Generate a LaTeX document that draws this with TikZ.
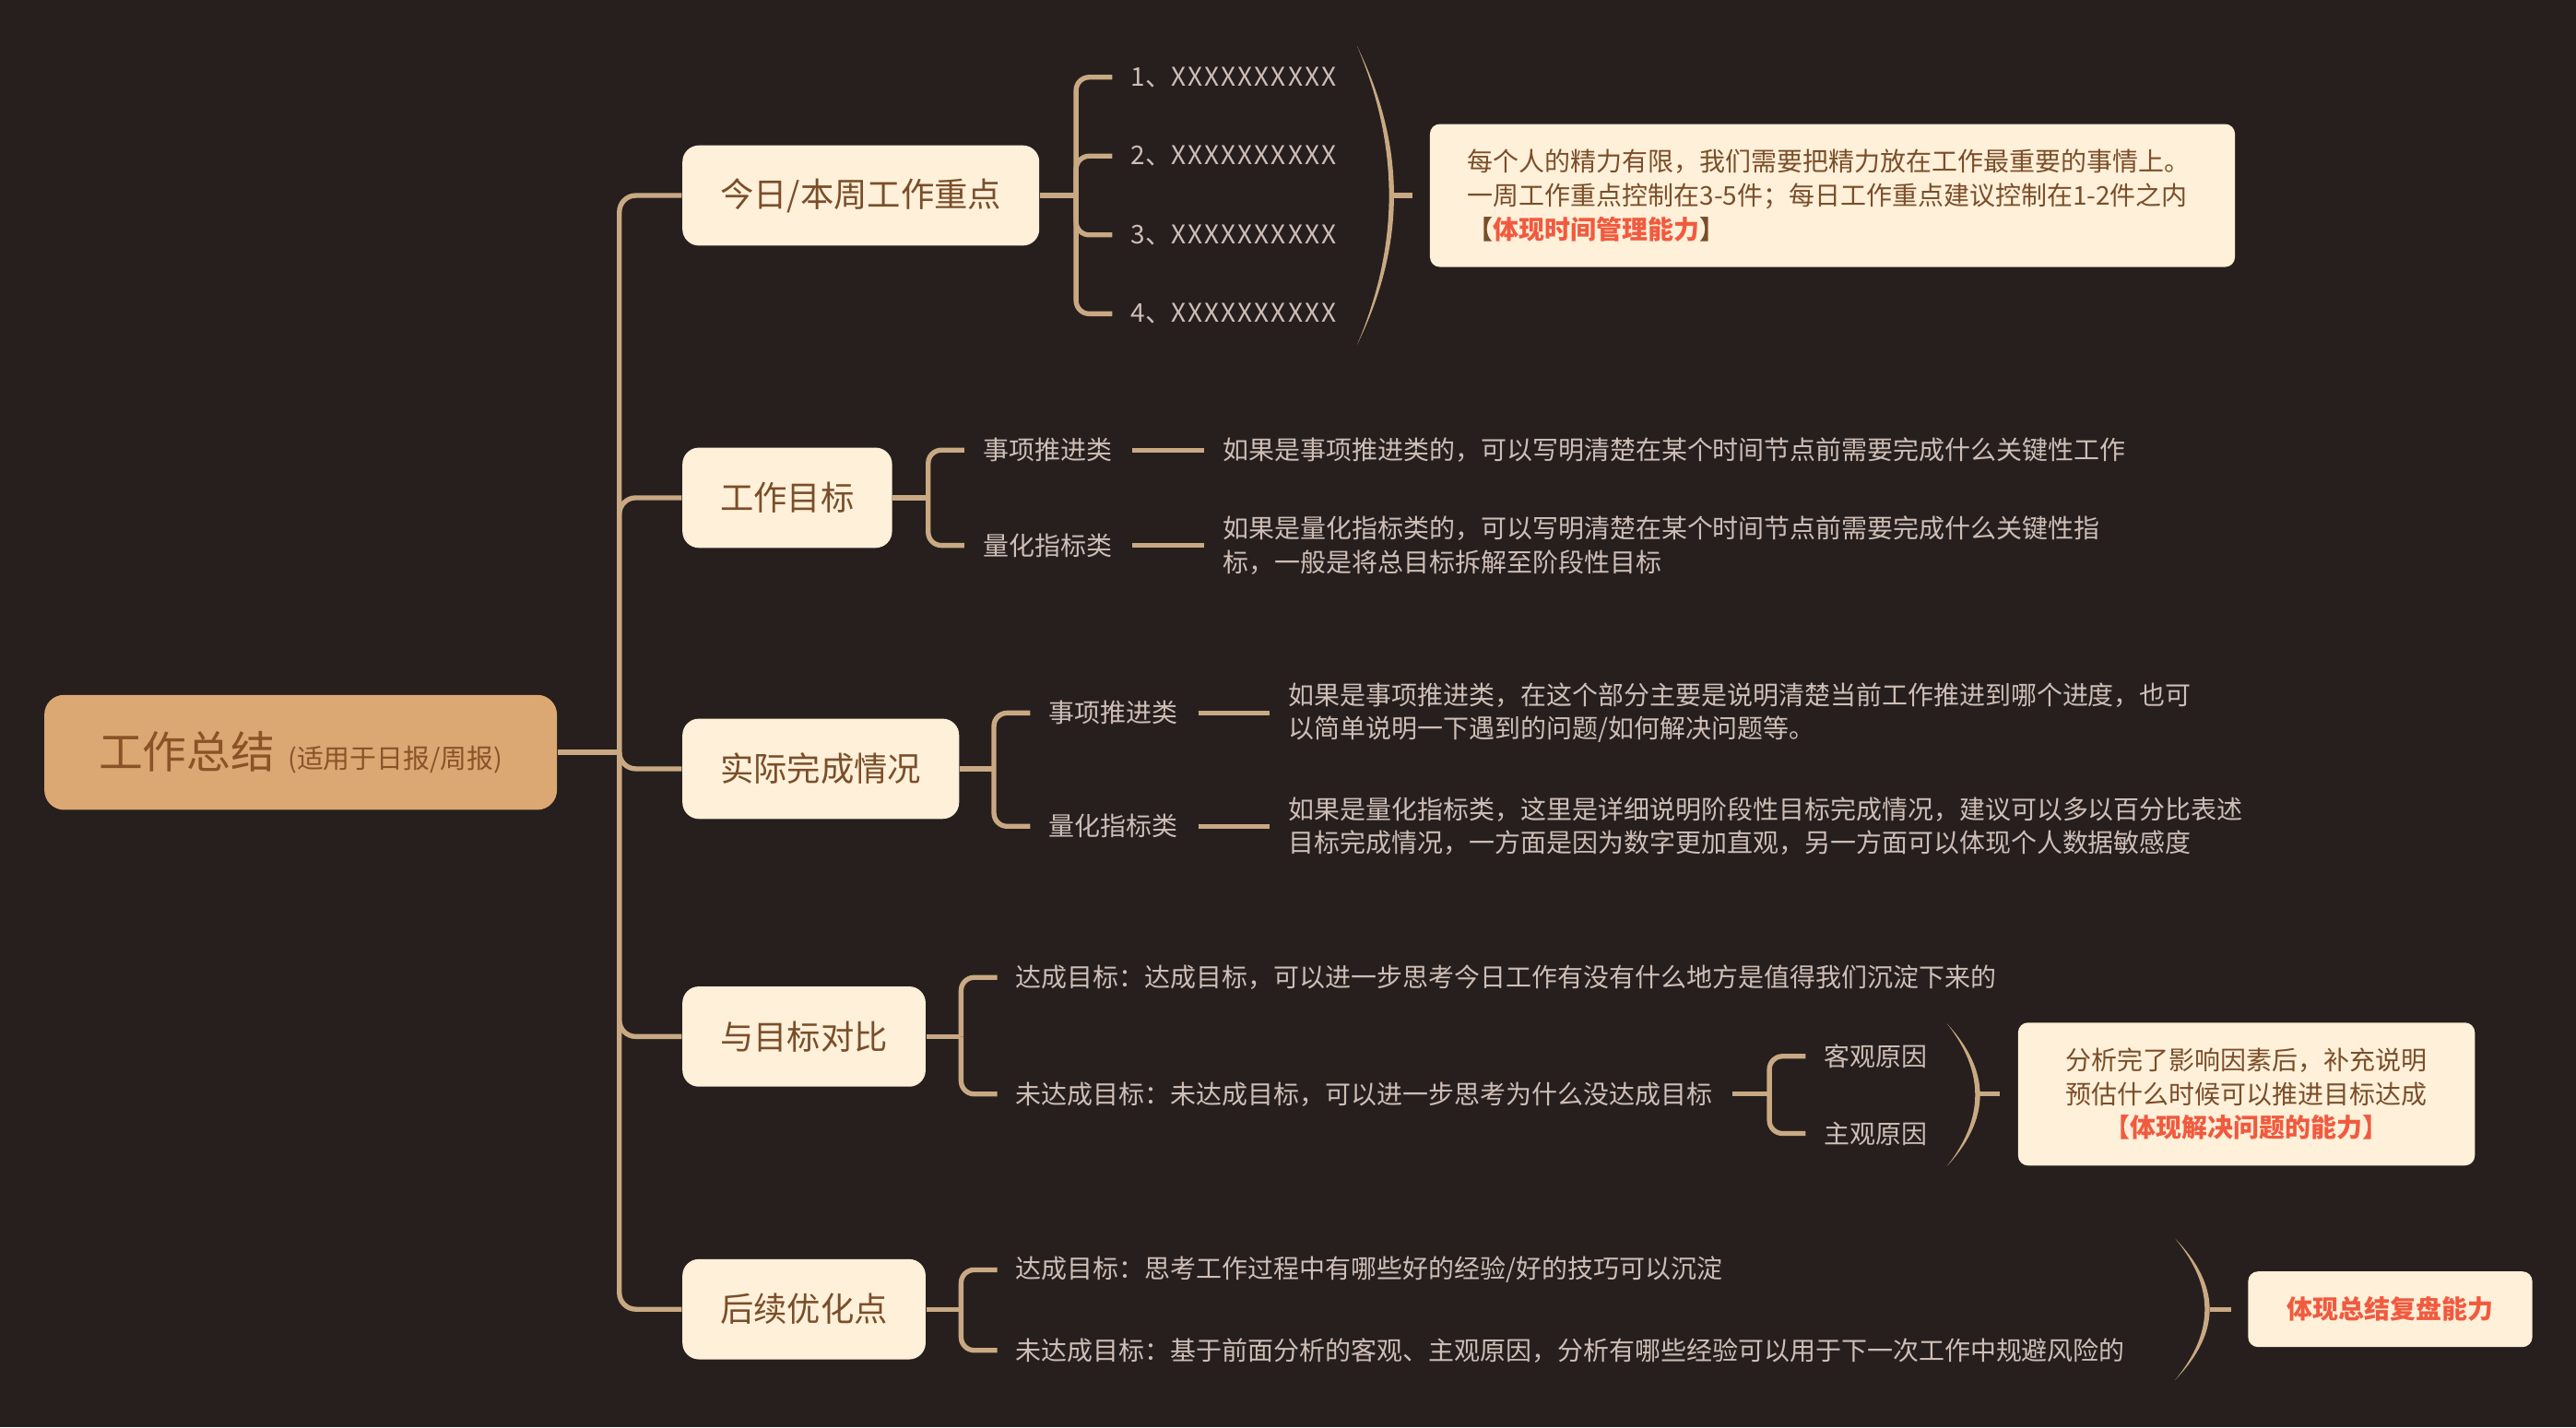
\documentclass[tikz,border=0pt]{standalone}
\usepackage{fontspec}
\setmainfont{Noto Sans CJK SC}
\usepackage{xcolor}

\definecolor{bgdark}{RGB}{38,31,29}
\definecolor{linetan}{RGB}{201,169,131}
\definecolor{greytext}{RGB}{206,190,182}
\definecolor{cream}{RGB}{255,240,217}
\definecolor{browntext}{RGB}{122,78,42}
\definecolor{rootfill}{RGB}{219,168,115}
\definecolor{roottext}{RGB}{139,82,40}
\definecolor{hotred}{RGB}{241,90,63}

\begin{document}
\begin{tikzpicture}[x=0.5pt, y=-0.5pt,
		conn/.style={draw=linetan, line width=1.5pt},
		topic/.style={fill=cream, text=browntext, rounded corners=5pt, inner xsep=11.5pt, minimum height=30.5pt, anchor=west, font=\fontsize{10.2}{12}\selectfont},
		leaf/.style={text=greytext, inner sep=0pt, anchor=west, align=left, font=\fontsize{7.85}{10.25}\selectfont},
		note/.style={fill=cream, text=browntext, rounded corners=3pt, inner xsep=11.5pt, minimum height=43.5pt, anchor=west, font=\fontsize{7.85}{10.25}\selectfont}]
		
		% background
		\fill[bgdark] (0,0) rectangle (1568,869);
		
		% root
		\node[fill=rootfill, text=roottext, rounded corners=6pt, minimum width=156pt, minimum height=35pt] (root) at (183,458)
		{\fontsize{13.4}{16}\selectfont 工作总结\hspace{4pt}{\fontsize{8.1}{10}\selectfont(适用于日报/周报)}\hspace{8pt}};
		
		% main topics
		\node[topic] (today) at (415,119) {今日/本周工作重点};
		\node[topic] (goal) at (415,303) {工作目标};
		\node[topic] (done) at (415,468) {实际完成情况};
		\node[topic] (cmp) at (415,631) {与目标对比};
		\node[topic] (next) at (415,797) {后续优化点};
		
		% trunk
		\coordinate (trunk) at (377,458);
		\draw[conn] (root.east) -- (trunk);
		\foreach \t in {today,goal,done,cmp,next}
			\draw[conn, rounded corners=5pt] (trunk) |- (\t.west);
		
		% today / this week
		\coordinate (b1) at (655,119);
		\draw[conn] (today.east) -- (b1);
		\foreach \n/\y in {1/47,2/95,3/143,4/191} {
			\node[leaf] (x\n) at (688,\y) {\n、{\addfontfeature{LetterSpace=7.5}XXXXXXXXXX}};
			\draw[conn, rounded corners=4pt] (b1) |- ([xshift=-5.5pt]x\n.west);
		}
		\fill[linetan] (826,28) .. controls (856,89) and (856,149) .. (826,210)
			.. controls (852,149) and (852,89) .. (826,28) -- cycle;
		\coordinate (p1) at (848,119);
		\node[note, text width=222pt, align=left] (sum1) at (870,119)
		{每个人的精力有限，我们需要把精力放在工作最重要的事情上。\\
			一周工作重点控制在3-5件；每日工作重点建议控制在1-2件之内\\
			{\bfseries【\textcolor{hotred}{体现时间管理能力}】}};
		\draw[conn] (p1) -- ([xshift=-5pt]sum1.west);
		
		% goals
		\coordinate (b2) at (565,303);
		\draw[conn] (goal.east) -- (b2);
		\node[leaf] (g1) at (598,274) {事项推进类};
		\node[leaf] (g2) at (598,332) {量化指标类};
		\node[leaf] (g1t) at (744,274) {如果是事项推进类的，可以写明清楚在某个时间节点前需要完成什么关键性工作};
		\node[leaf] (g2t) at (744,332) {如果是量化指标类的，可以写明清楚在某个时间节点前需要完成什么关键性指\\标，一般是将总目标拆解至阶段性目标};
		\foreach \n in {g1,g2} {
			\draw[conn, rounded corners=4pt] (b2) |- ([xshift=-5.5pt]\n.west);
			\draw[conn] ([xshift=6pt]\n.east) -- ([xshift=-5.5pt]\n t.west);
		}
		
		% actual progress
		\coordinate (b3) at (605,468);
		\draw[conn] (done.east) -- (b3);
		\node[leaf] (d1) at (638,434) {事项推进类};
		\node[leaf] (d2) at (638,503) {量化指标类};
		\node[leaf] (d1t) at (784,434) {如果是事项推进类，在这个部分主要是说明清楚当前工作推进到哪个进度，也可\\以简单说明一下遇到的问题/如何解决问题等。};
		\node[leaf] (d2t) at (784,503) {如果是量化指标类，这里是详细说明阶段性目标完成情况，建议可以多以百分比表述\\目标完成情况，一方面是因为数字更加直观，另一方面可以体现个人数据敏感度};
		\foreach \n in {d1,d2} {
			\draw[conn, rounded corners=4pt] (b3) |- ([xshift=-5.5pt]\n.west);
			\draw[conn] ([xshift=6pt]\n.east) -- ([xshift=-5.5pt]\n t.west);
		}
		
		% compare with goals
		\coordinate (b4) at (585,631);
		\draw[conn] (cmp.east) -- (b4);
		\node[leaf] (c1) at (618,595) {达成目标：达成目标，可以进一步思考今日工作有没有什么地方是值得我们沉淀下来的};
		\node[leaf] (c2) at (618,666) {未达成目标：未达成目标，可以进一步思考为什么没达成目标};
		\foreach \n in {c1,c2}
			\draw[conn, rounded corners=4pt] (b4) |- ([xshift=-5.5pt]\n.west);
		\coordinate (b4b) at (1077,666);
		\draw[conn] ([xshift=6pt]c2.east) -- (b4b);
		\node[leaf] (r1) at (1110,643) {客观原因};
		\node[leaf] (r2) at (1110,690) {主观原因};
		\foreach \n in {r1,r2}
			\draw[conn, rounded corners=4pt] (b4b) |- ([xshift=-5.5pt]\n.west);
		\fill[linetan] (1185,623) .. controls (1212,652) and (1212,681) .. (1185,710)
			.. controls (1208,681) and (1208,652) .. (1185,623) -- cycle;
		\coordinate (p4) at (1205,666);
		\node[note, text width=116pt, align=center] (sol) at (1228,666)
		{分析完了影响因素后，补充说明\\
			预估什么时候可以推进目标达成\\
			{\bfseries\color{hotred}【体现解决问题的能力】}};
		\draw[conn] (p4) -- ([xshift=-5.5pt]sol.west);
		
		% follow-up
		\coordinate (b5) at (585,797);
		\draw[conn] (next.east) -- (b5);
		\node[leaf] (n1) at (618,773) {达成目标：思考工作过程中有哪些好的经验/好的技巧可以沉淀};
		\node[leaf] (n2) at (618,822) {未达成目标：基于前面分析的客观、主观原因，分析有哪些经验可以用于下一次工作中规避风险的};
		\foreach \n in {n1,n2}
			\draw[conn, rounded corners=4pt] (b5) |- ([xshift=-5.5pt]\n.west);
		\fill[linetan] (1324,754) .. controls (1352,783) and (1352,811) .. (1324,840)
			.. controls (1348,811) and (1348,783) .. (1324,754) -- cycle;
		\coordinate (p5) at (1345,797);
		\node[note, minimum width=86.5pt, minimum height=23pt, font=\fontsize{7.85}{10.25}\selectfont\bfseries, text=hotred] (review) at (1368,797) {体现总结复盘能力};
		\draw[conn] (p5) -- ([xshift=-5pt]review.west);
		
	\end{tikzpicture}
\end{document}
